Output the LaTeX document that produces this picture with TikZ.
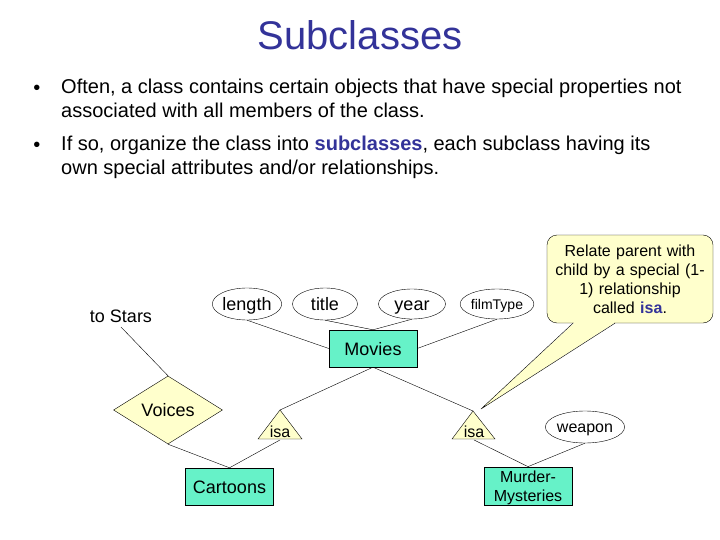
\documentclass[tikz,border=0pt]{standalone}
\usepackage{fontspec}
\setmainfont{Liberation Sans}
\usepackage{xcolor}
\usetikzlibrary{
		calc,
		shapes.geometric,
		positioning
	}
\definecolor{titleblue}{RGB}{51,51,153}
\definecolor{entityfill}{RGB}{102,242,200}
\definecolor{noteyellow}{RGB}{255,255,204}
\tikzset{
		>=stealth,
		erfont/.style={font=\fontsize{18}{20}\selectfont, text height=14pt, text depth=1pt},
		smallfont/.style={font=\fontsize{16}{19}\selectfont, text height=12.5pt, text depth=1pt},
		entity/.style={draw, fill=entityfill, minimum width=88pt, minimum height=37pt, inner sep=0pt, erfont},
		attr/.style={draw, ellipse, inner sep=0pt, erfont},
		relship/.style={draw, fill=noteyellow, diamond, inner sep=0pt, erfont},
		isatri/.style={draw, fill=noteyellow},
		bullettext/.style={anchor=north west, inner sep=0pt, align=left, font=\fontsize{20}{24}\selectfont}
	}

\begin{document}
\begin{tikzpicture}[x=1pt, y=-1pt]
        \fill[white] (0,0) rectangle (720,540);
        \useasboundingbox (0,0) rectangle (720,540);

        % the title and the bullets
        \node[text=titleblue, font=\fontsize{40}{48}\selectfont] (title) at (360,35) {Subclasses};
        \node[font=\fontsize{20}{24}\selectfont] (b1) at (37,90) {•};
        \node[font=\fontsize{20}{24}\selectfont] (b2) at (37,147) {•};
        \node[bullettext] (t1) at (61,79) {Often, a class contains certain objects that have special properties not\\associated with all members of the class.};
        \node[bullettext] (t2) at (61,136) {If so, organize the class into \textcolor{titleblue}{\textbf{subclasses}}, each subclass having its\\own special attributes and/or relationships.};

        % the entity sets
        \node[entity] (movies) at (373,348.5) {Movies};
        \node[entity] (cartoons) at (229.5,486.5) {Cartoons};
        \node[entity, align=center, font=\fontsize{16}{19}\selectfont, text height=, text depth=] (murder) at (528,486) {\rule{0pt}{16pt}Murder-\\Mysteries};

        % the attributes
        \node[attr, minimum width=66pt, minimum height=32pt] (length) at (247,304) {length};
        \node[attr, minimum width=65pt, minimum height=32pt] (atitle) at (325,304) {title};
        \node[attr, minimum width=67pt, minimum height=30pt] (year) at (412,304) {year};
        \node[attr, minimum width=62pt, minimum height=30pt, font=\fontsize{14}{16}\selectfont, text height=11pt, text depth=1pt] (filmtype) at (497,304) {filmType};
        \node[attr, minimum width=64pt, minimum height=32pt, smallfont] (weapon) at (585,427) {weapon};

        % the relationships
        \node[erfont] (stars) at (121,316) {to Stars};
        \node[relship, minimum width=109pt, minimum height=50pt] (voices) at (168,410) {Voices};

        % the isa triangles (apex first, the text sits at the bottom)
        \coordinate (isaAtop) at (280,410);
        \coordinate (isaBtop) at (473,411);
        \filldraw[isatri] (isaAtop) -- (258,439) -- (302,439) -- cycle;
        \filldraw[isatri] (isaBtop) -- (452,439) -- (495,439) -- cycle;
        \node[smallfont, inner sep=1pt] (isaA) at (280,432) {isa};
        \node[smallfont, inner sep=1pt] (isaB) at (474,432) {isa};

        % the lines
        \draw (length.south) -- (movies.west);
        \draw (atitle.south) -- (movies.north);
        \draw (year.south) -- (movies.north);
        \draw (filmtype.south) -- (movies.east);
        \draw (movies.south) -- (isaAtop);
        \draw (movies.south) -- (isaBtop);
        \draw (isaA.south) -- (cartoons.north);
        \draw (isaB.south) -- (murder.north);
        \draw (weapon.south) -- (murder.north);
        \draw (voices.south) -- (cartoons.north);
        \draw (stars.south) -- (voices.north);

        % the note
        \node[draw, fill=noteyellow, rounded corners=10pt, minimum width=166pt, minimum height=88pt, text width=150pt, align=center, font=\fontsize{16}{19}\selectfont] (note) at (630,279) {Relate parent with child by a special (1-\\1) relationship called \textcolor{titleblue}{\textbf{isa}}.};
        \coordinate (tip) at (481,409);
        \coordinate (noteL) at ($(note.south)+(-57,0)$);
        \coordinate (noteR) at ($(note.south)+(-15,0)$);
        \fill[noteyellow] ($(noteL)+(1,-3)$) -- ($(noteL)+(1,0)$) -- (tip) -- ($(noteR)+(-1,0)$) -- ($(noteR)+(-1,-3)$) -- cycle;
        \draw (noteL) -- (tip) -- (noteR);

    \end{tikzpicture}
\end{document}
